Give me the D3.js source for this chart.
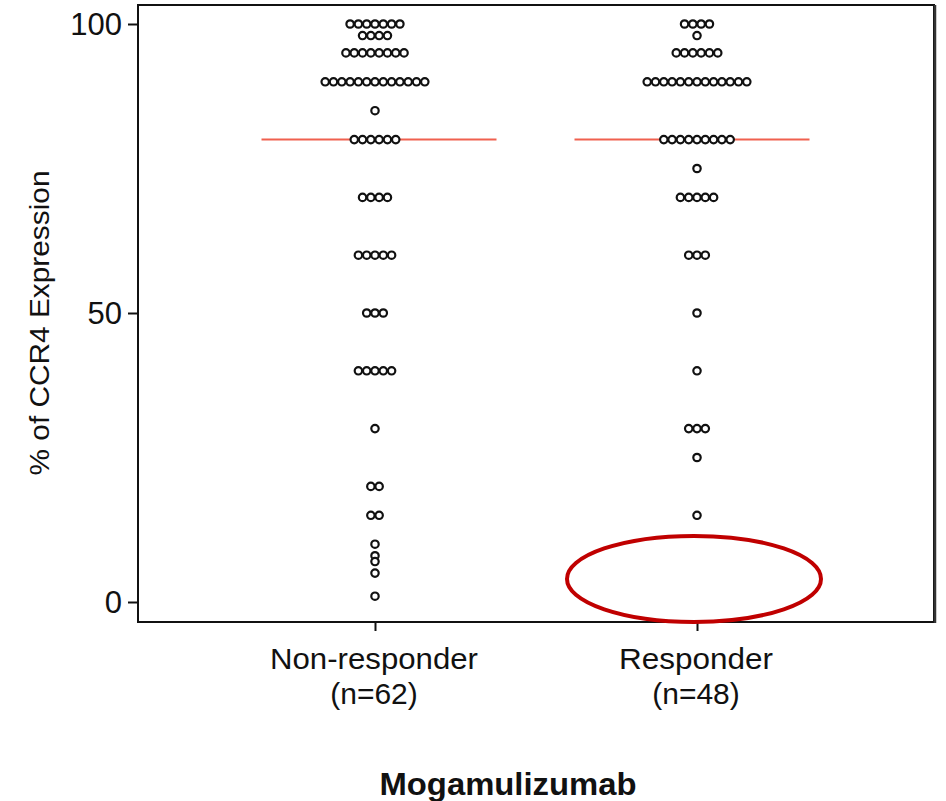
<!DOCTYPE html>
<html>
<head>
<meta charset="utf-8">
<script src="https://cdn.jsdelivr.net/npm/d3@7"></script>
<style>
  html, body { margin: 0; padding: 0; background: #fff; }
  svg { display: block; }
  text { font-family: "Liberation Sans", Arial, sans-serif; fill: #111; }
</style>
</head>
<body>
<svg id="chart" width="946" height="801"></svg>
<script>
// ---- data ----
const categories = ["Non-responder", "Responder"];
const categoryCounts = ["(n=62)", "(n=48)"];
const nonResponderLevels = [100, 98, 95, 90, 85, 80, 70, 60, 50, 40, 30, 20, 15, 10, 8, 7, 5, 1];
const nonResponderCounts = [7, 4, 8, 13, 1, 6, 4, 5, 3, 5, 1, 2, 2, 1, 1, 1, 1, 1];
const responderLevels = [100, 98, 95, 90, 80, 75, 70, 60, 50, 40, 30, 25, 15];
const responderCounts = [4, 1, 6, 13, 9, 1, 5, 3, 1, 1, 3, 1, 1];
const medians = [80, 80];
const yTicks = [0, 50, 100];
const yTitle = "% of CCR4 Expression";
const xTitle = "Mogamulizumab";

// ---- layout ----
const svg = d3.select("#chart");
const frame = { left: 138, right: 934, top: 5, bottom: 622 };

const x = d3.scalePoint().domain(categories).range([frame.left, frame.right]).padding(0.736);
const y = d3.scaleLinear().domain([0, 100]).range([602, 24]);

// frame
svg.append("rect")
  .attr("x", frame.left).attr("y", frame.top)
  .attr("width", frame.right - frame.left).attr("height", frame.bottom - frame.top)
  .attr("fill", "none").attr("stroke", "#111").attr("stroke-width", 2);
svg.append("line")
  .attr("x1", frame.right + 1).attr("x2", frame.right + 1)
  .attr("y1", frame.top).attr("y2", frame.bottom + 1)
  .attr("stroke", "#333").attr("stroke-width", 2.5);

// y axis
const yAxis = d3.axisLeft(y).tickValues(yTicks).tickSize(10).tickPadding(6).tickFormat(d3.format("d"));
const gy = svg.append("g").attr("transform", `translate(${frame.left},0)`).call(yAxis);
gy.select(".domain").remove();
gy.selectAll(".tick line").attr("stroke", "#111").attr("stroke-width", 2);
gy.selectAll(".tick text").style("font-size", "31px").style("font-family", "Liberation Sans, Arial, sans-serif").attr("fill", "#111").attr("dy", "0.35em");

// x axis
const xAxis = d3.axisBottom(x).tickSize(9).tickFormat(() => "");
const gx = svg.append("g").attr("transform", `translate(0,${frame.bottom})`).call(xAxis);
gx.select(".domain").remove();
gx.selectAll(".tick line").attr("stroke", "#111").attr("stroke-width", 2);

categories.forEach((c, i) => {
  svg.append("text").attr("x", x(c) - 1).attr("y", 669).attr("text-anchor", "middle")
    .style("font-size", "30px").attr("textLength", c === "Non-responder" ? 208 : 154)
    .attr("lengthAdjust", "spacingAndGlyphs").text(c);
  svg.append("text").attr("x", x(c) - 1).attr("y", 704).attr("text-anchor", "middle")
    .style("font-size", "30px").text(categoryCounts[i]);
});

// titles
svg.append("text")
  .attr("transform", `translate(49,${(y(0) + y(100)) / 2 + 10}) rotate(-90)`)
  .attr("text-anchor", "middle")
  .style("font-size", "27px")
  .attr("textLength", 305).attr("lengthAdjust", "spacingAndGlyphs")
  .text(yTitle);
svg.append("text")
  .attr("x", 508).attr("y", 795).attr("text-anchor", "middle")
  .style("font-size", "32px").style("font-weight", "bold")
  .attr("textLength", 257).attr("lengthAdjust", "spacingAndGlyphs")
  .text(xTitle);

// median lines
const halfWidth = 117.5;
const lineShift = [4, -5];
categories.forEach((c, i) => {
  svg.append("line")
    .attr("x1", x(c) + lineShift[i] - halfWidth).attr("x2", x(c) + lineShift[i] + halfWidth)
    .attr("y1", y(medians[i])).attr("y2", y(medians[i]))
    .attr("stroke", "#f0604f").attr("stroke-width", 2);
});

// dots
const step = 8.3;
function buildDots(cat, levels, counts) {
  const pts = [];
  levels.forEach((v, k) => {
    const n = counts[k];
    for (let j = 0; j < n; j++) pts.push({ cat, v, off: (j - (n - 1) / 2) * step });
  });
  return pts;
}
const dots = buildDots(categories[0], nonResponderLevels, nonResponderCounts)
  .concat(buildDots(categories[1], responderLevels, responderCounts));

svg.append("g").selectAll("circle").data(dots).join("circle")
  .attr("cx", d => x(d.cat) + d.off)
  .attr("cy", d => y(d.v))
  .attr("r", 3.7)
  .attr("fill", "#fff")
  .attr("stroke", "#111")
  .attr("stroke-width", 2.2);

// annotation ellipse
svg.append("ellipse")
  .attr("cx", x(categories[1]) - 3).attr("cy", y(4))
  .attr("rx", 127).attr("ry", 43)
  .attr("fill", "none").attr("stroke", "#c00000").attr("stroke-width", 4);
</script>
</body>
</html>
